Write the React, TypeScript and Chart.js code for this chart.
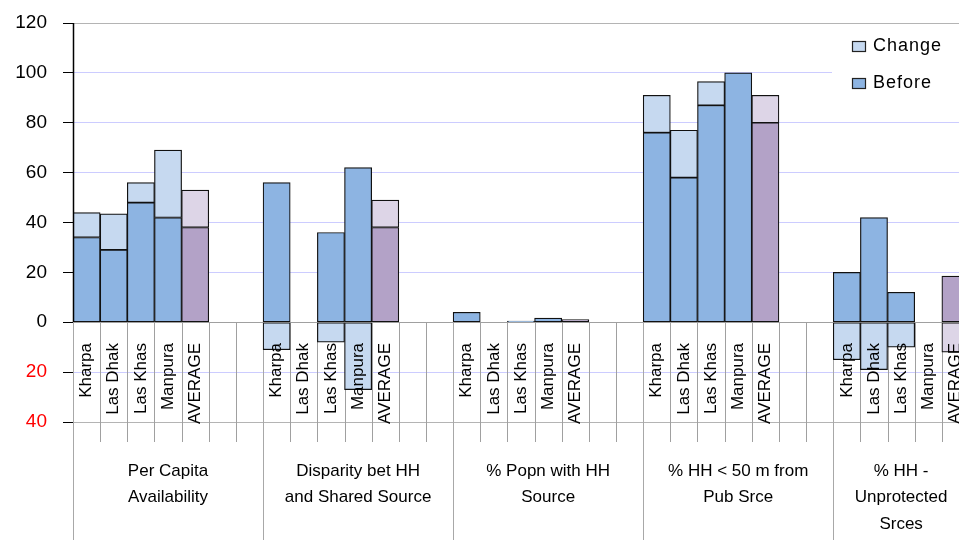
import React, { useEffect, useRef } from "react";
import { Chart, registerables } from "chart.js";

Chart.register(...registerables);

const places = ["Kharpa", "Las Dhak", "Las Khas", "Manpura", "AVERAGE"];
const groupLabels = [
  ["Per Capita", "Availability"],
  ["Disparity bet HH", "and Shared Source"],
  ["% Popn with HH", "Source"],
  ["% HH < 50 m from", "Pub Srce"],
  ["% HH -", "Unprotected", "Srces"],
];
// Before values, 5 places per group
const beforeValues = [
  34, 29, 48, 42, 38,
  56, null, 36, 62, 38,
  4, null, 0.5, 1.7, 1.1,
  76, 58, 87, 100, 80,
  20, 42, 12, null, 18.5,
];
// Change values, 5 places per group
const changeValues = [
  10, 14.5, 8, 27, 15,
  -11, null, -8, -27, 11,
  null, null, null, null, null,
  15, 19, 9.5, null, 11,
  -15, -19, -10, null, -12,
];
const legendLabels = ["Change", "Before"];
const yMin = -40;
const yMax = 120;
const yStep = 20;

const FONT = '"Liberation Sans", Arial, sans-serif';

const BLUE = "#8DB4E2";
const LIGHT_BLUE = "#C6D9F0";
const PURPLE = "#B3A2C7";
const LIGHT_PURPLE = "#DDD5E7";

// build slots: each group 5 places + 2 empty slots (last group has none)
const slotLabels: string[] = [];
const beforeData: (number | null)[] = [];
const changeData: (number | null)[] = [];
const isAvg: boolean[] = [];
const groupStarts: number[] = [];
groupLabels.forEach((_, g) => {
  groupStarts.push(slotLabels.length);
  places.forEach((p, s) => {
    slotLabels.push(p);
    beforeData.push(beforeValues[g * 5 + s]);
    changeData.push(changeValues[g * 5 + s]);
    isAvg.push(p === "AVERAGE");
  });
  if (g < groupLabels.length - 1) {
    for (let k = 0; k < 2; k++) {
      slotLabels.push("");
      beforeData.push(null);
      changeData.push(null);
      isAvg.push(false);
    }
  }
});
groupStarts.push(slotLabels.length);

const decor = {
  id: "excelDecor",
  beforeDatasetsDraw(chart: any) {
    const { ctx, chartArea, scales } = chart;
    const y = scales.y;
    const zeroY = Math.round(y.getPixelForValue(0));
    const n = slotLabels.length;
    const w = (chartArea.right - chartArea.left) / n;
    ctx.save();
    ctx.lineWidth = 1;
    for (let i = 0; i <= n; i++) {
      const xx = Math.round(chartArea.left + i * w) + 0.5;
      const isGroup = groupStarts.includes(i);
      ctx.strokeStyle = isGroup ? "#a8a8a8" : "#a0a0a0";
      ctx.beginPath();
      ctx.moveTo(xx, zeroY);
      ctx.lineTo(xx, isGroup ? 540 : 442);
      ctx.stroke();
    }
    ctx.restore();
  },
  afterDatasetsDraw(chart: any) {
    const { ctx, chartArea, scales } = chart;
    const y = scales.y;
    const zeroY = Math.round(y.getPixelForValue(0));
    const n = slotLabels.length;
    const w = (chartArea.right - chartArea.left) / n;
    ctx.save();
    // y axis line (black above zero)
    ctx.strokeStyle = "#000";
    ctx.lineWidth = 1.5;
    ctx.beginPath();
    ctx.moveTo(chartArea.left + 0.5, chartArea.top);
    ctx.lineTo(chartArea.left + 0.5, zeroY);
    ctx.stroke();

    // category labels rotated
    ctx.fillStyle = "#000";
    ctx.font = `17px ${FONT}`;
    ctx.textAlign = "right";
    ctx.textBaseline = "middle";
    for (let i = 0; i < n; i++) {
      if (!slotLabels[i]) continue;
      const cx = chartArea.left + (i + 0.5) * w;
      ctx.save();
      ctx.translate(cx, zeroY + 21);
      ctx.rotate(-Math.PI / 2);
      ctx.fillText(slotLabels[i], 0, 0);
      ctx.restore();
    }

    // group labels
    ctx.font = `17px ${FONT}`;
    ctx.textAlign = "center";
    ctx.textBaseline = "middle";
    groupLabels.forEach((lines, g) => {
      const start = groupStarts[g];
      const end = groupStarts[g + 1];
      const cx = chartArea.left + ((start + end) / 2) * w;
      lines.forEach((t, k) => {
        ctx.fillText(t, cx, 471 + k * 26.5);
      });
    });

    // legend
    ctx.fillStyle = "#fff";
    ctx.fillRect(832, chartArea.top + 1, 200, 82);
    const items = [
      { label: legendLabels[0], color: LIGHT_BLUE, y: 46 },
      { label: legendLabels[1], color: BLUE, y: 83 },
    ];
    ctx.font = `18px ${FONT}`;
    (ctx as any).letterSpacing = "1px";
    ctx.textAlign = "left";
    ctx.textBaseline = "middle";
    items.forEach((it) => {
      ctx.fillStyle = it.color;
      ctx.fillRect(852, it.y - 5, 13, 10);
      ctx.strokeStyle = "#222";
      ctx.lineWidth = 1.2;
      ctx.strokeRect(852.5, it.y - 4.5, 13, 10);
      ctx.fillStyle = "#000";
      ctx.fillText(it.label, 873, it.y);
    });
    ctx.restore();
  },
};

export default function App() {
  const ref = useRef<HTMLCanvasElement | null>(null);
  useEffect(() => {
    if (!ref.current) return;
    const chart = new Chart(ref.current, {
      type: "bar",
      data: {
        labels: slotLabels,
        datasets: [
          {
            label: "Before",
            data: beforeData as any,
            backgroundColor: isAvg.map((a) => (a ? PURPLE : BLUE)),
            borderColor: "#111",
            borderWidth: 1.2,
            borderSkipped: false,
            barPercentage: 1,
            categoryPercentage: 1,
          },
          {
            label: "Change",
            data: changeData as any,
            backgroundColor: isAvg.map((a) => (a ? LIGHT_PURPLE : LIGHT_BLUE)),
            borderColor: "#111",
            borderWidth: 1.2,
            borderSkipped: false,
            barPercentage: 1,
            categoryPercentage: 1,
          },
        ],
      },
      options: {
        responsive: false,
        animation: false,
        devicePixelRatio: 1,
        layout: { padding: { left: 0, top: 23, right: 0, bottom: 118 } },
        plugins: { legend: { display: false }, tooltip: { enabled: false } },
        scales: {
          x: { type: "category", display: false, stacked: true, offset: true },
          y: {
            stacked: true,
            min: yMin,
            max: yMax,
            afterFit: (s: any) => {
              s.width = 73;
              s.paddingTop = 0;
              s.paddingBottom = 0;
            },
            border: { display: false },
            grid: {
              color: (c: any) => {
                const v = c.tick?.value;
                if (v === yMax || v === yMin) return "#b4b4b4";
                if (v === 0) return "#a0a0a0";
                return "#ccccff";
              },
              tickColor: "#000",
              tickLength: 10,
              lineWidth: 1,
            },
            ticks: {
              stepSize: yStep,
              padding: 16,
              font: { family: FONT, size: 19 },
              color: (c: any) => (c.tick?.value < 0 ? "#ff0000" : "#000"),
              callback: (v: any) => String(Math.abs(Number(v))),
            },
          },
        },
      },
      plugins: [decor],
    });
    return () => chart.destroy();
  }, []);
  return (
    <div
      style={{
        position: "fixed",
        left: 0,
        top: 0,
        width: 959,
        height: 540,
        overflow: "hidden",
        background: "#fff",
      }}
    >
      <canvas ref={ref} width={969} height={540} style={{ display: "block" }} />
    </div>
  );
}
